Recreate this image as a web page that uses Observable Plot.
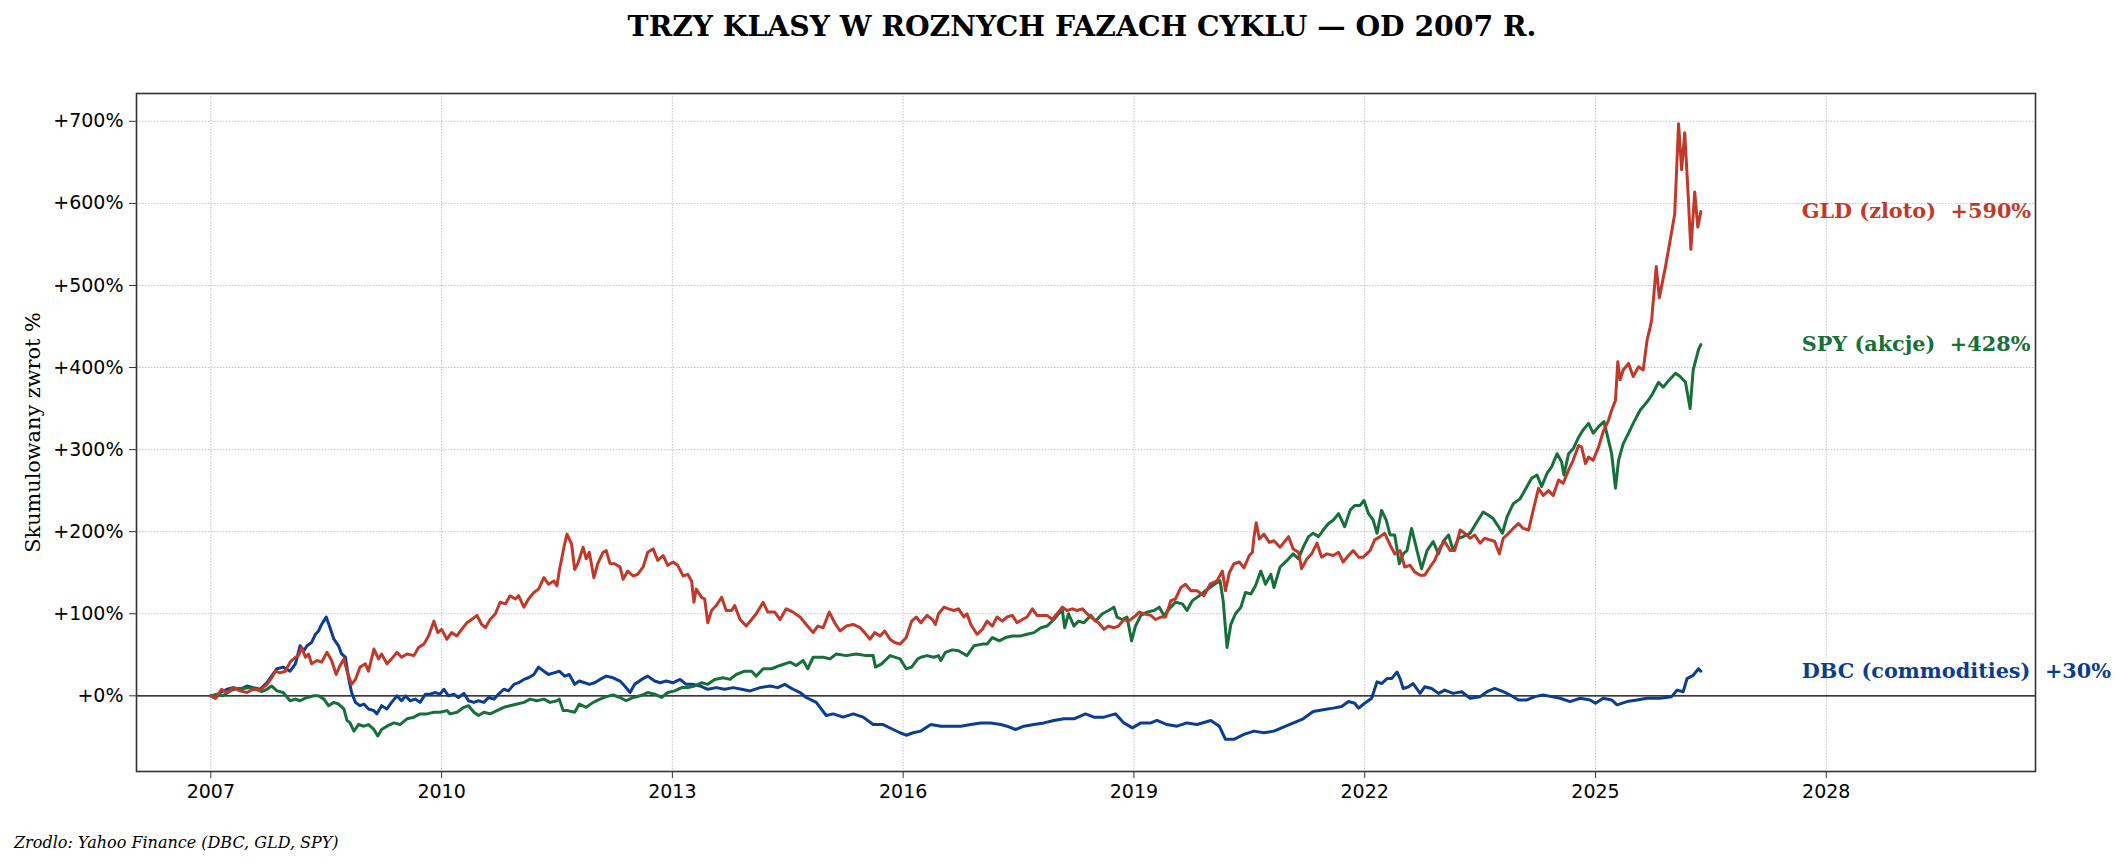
<!DOCTYPE html>
<html>
<head>
<meta charset="utf-8">
<script src="https://cdn.jsdelivr.net/npm/d3@7"></script>
<script src="https://cdn.jsdelivr.net/npm/@observablehq/plot@0.6"></script>
<style>
  html, body { margin: 0; padding: 0; background: #fff; }
  #wrap { position: relative; width: 2127px; height: 866px; background: #fff; overflow: hidden; }
  #title { position: absolute; left: 82px; width: 2000px; top: 8px; height: 36px; line-height: 36px;
           text-align: center; font-family: "DejaVu Serif", serif; font-weight: bold; font-size: 28.3px; color: #000; }
  #source { position: absolute; left: 14px; top: 832px; height: 22px; line-height: 22px;
            font-family: "DejaVu Serif", serif; font-style: italic; font-size: 16px; color: #000; }
  svg text { white-space: pre; }
</style>
</head>
<body>
<div id="wrap">
  <div id="chart"></div>
  <div id="title">TRZY KLASY W ROZNYCH FAZACH CYKLU — OD 2007 R.</div>
  <div id="source">Zrodlo: Yahoo Finance (DBC, GLD, SPY)</div>
</div>
<script>
// ---- data: [year, cumulative return %] ----
const gld = [[2007.00,0],[2007.06,-3],[2007.14,8],[2007.21,4],[2007.29,10],[2007.38,6],[2007.47,4],[2007.55,8],[2007.64,7],[2007.73,14],[2007.79,22],[2007.84,30],[2007.90,28],[2007.97,30],[2008.03,41],[2008.10,47],[2008.14,49],[2008.18,59],[2008.23,47],[2008.27,51],[2008.31,39],[2008.38,43],[2008.44,41],[2008.51,53],[2008.57,43],[2008.63,26],[2008.67,35],[2008.73,45],[2008.77,30],[2008.83,14],[2008.88,20],[2008.94,35],[2009.01,39],[2009.05,30],[2009.12,57],[2009.18,45],[2009.22,51],[2009.29,39],[2009.35,45],[2009.42,53],[2009.48,47],[2009.55,51],[2009.64,49],[2009.70,59],[2009.77,63],[2009.83,73],[2009.90,91],[2009.95,77],[2010.00,81],[2010.07,69],[2010.13,77],[2010.20,73],[2010.26,81],[2010.33,89],[2010.39,93],[2010.46,98],[2010.52,87],[2010.57,83],[2010.63,93],[2010.70,100],[2010.76,114],[2010.83,112],[2010.89,122],[2010.96,118],[2011.00,122],[2011.07,108],[2011.13,118],[2011.20,126],[2011.26,130],[2011.33,144],[2011.39,136],[2011.46,140],[2011.50,134],
  [2011.53,152],[2011.59,181],[2011.63,197],[2011.69,185],[2011.73,154],[2011.77,161],[2011.84,181],[2011.88,167],[2011.92,175],[2011.98,144],[2012.03,161],[2012.10,175],[2012.14,177],[2012.19,161],[2012.25,161],[2012.32,157],[2012.36,142],[2012.42,152],[2012.49,146],[2012.55,148],[2012.62,157],[2012.68,175],[2012.75,179],[2012.81,165],[2012.88,171],[2012.94,159],[2013.01,163],[2013.07,159],[2013.14,146],[2013.20,148],[2013.25,140],[2013.28,114],[2013.31,130],[2013.38,120],[2013.42,118],[2013.46,89],[2013.51,104],[2013.57,110],[2013.64,120],[2013.70,104],[2013.77,104],[2013.81,110],[2013.88,93],[2013.96,85],[2014.03,93],[2014.09,100],[2014.18,114],[2014.24,102],[2014.33,102],[2014.40,93],[2014.48,106],[2014.57,102],[2014.66,96],[2014.74,87],[2014.83,77],[2014.89,85],[2014.96,83],[2015.04,102],[2015.11,89],[2015.18,79],[2015.26,85],[2015.35,87],[2015.44,83],[2015.50,77],[2015.57,69],[2015.63,77],[2015.70,73],[2015.76,79],[2015.83,69],[2015.89,65],[2015.96,63],[2016.04,71],[2016.11,91],[2016.17,96],
  [2016.23,89],[2016.31,98],[2016.38,93],[2016.42,87],[2016.46,100],[2016.53,108],[2016.59,106],[2016.66,104],[2016.72,106],[2016.79,96],[2016.83,100],[2016.88,87],[2016.96,75],[2017.03,81],[2017.09,91],[2017.16,85],[2017.22,96],[2017.29,91],[2017.35,96],[2017.42,98],[2017.48,89],[2017.55,93],[2017.61,96],[2017.68,106],[2017.74,98],[2017.81,98],[2017.87,98],[2017.94,93],[2018.00,100],[2018.07,108],[2018.13,104],[2018.20,106],[2018.26,104],[2018.33,106],[2018.39,100],[2018.48,93],[2018.54,89],[2018.61,81],[2018.67,85],[2018.74,83],[2018.80,85],[2018.87,93],[2018.93,91],[2019.00,96],[2019.07,102],[2019.13,100],[2019.22,98],[2019.28,93],[2019.35,96],[2019.41,96],[2019.48,116],[2019.54,118],[2019.61,132],[2019.67,136],[2019.74,128],[2019.82,128],[2019.91,122],[2019.99,136],[2020.08,140],[2020.15,152],[2020.19,128],[2020.24,150],[2020.30,161],[2020.37,163],[2020.43,156],[2020.50,171],[2020.54,175],[2020.56,193],[2020.59,211],[2020.63,191],[2020.69,197],[2020.76,187],[2020.82,189],
  [2020.90,181],[2020.96,188],[2021.01,194],[2021.07,179],[2021.14,175],[2021.18,155],[2021.25,167],[2021.31,173],[2021.38,186],[2021.44,169],[2021.51,173],[2021.59,171],[2021.66,175],[2021.72,163],[2021.79,171],[2021.85,177],[2021.92,169],[2021.98,169],[2022.07,177],[2022.13,190],[2022.20,194],[2022.26,198],[2022.33,184],[2022.39,173],[2022.46,177],[2022.52,157],[2022.59,159],[2022.65,151],[2022.72,147],[2022.78,147],[2022.85,157],[2022.91,165],[2022.98,181],[2023.04,188],[2023.11,177],[2023.17,177],[2023.24,202],[2023.30,198],[2023.37,192],[2023.43,196],[2023.50,186],[2023.56,192],[2023.63,190],[2023.69,188],[2023.75,173],[2023.80,192],[2023.87,198],[2023.93,204],[2024.00,210],[2024.06,204],[2024.13,202],[2024.19,226],[2024.26,253],[2024.32,244],[2024.39,250],[2024.45,244],[2024.52,263],[2024.58,259],[2024.65,275],[2024.71,287],[2024.78,305],[2024.82,303],[2024.87,283],[2024.91,291],[2024.97,287],[2025.04,303],[2025.10,322],[2025.17,336],[2025.21,348],[2025.26,360],[2025.29,407],[2025.32,385],[2025.36,397],[2025.43,405],[2025.49,389],[2025.56,401],[2025.62,397],[2025.67,433],[2025.71,449],[2025.73,458],
  [2025.79,523],[2025.83,485],[2025.91,523],[2025.98,560],[2026.03,587],[2026.08,697],[2026.12,641],[2026.16,686],[2026.20,619],[2026.24,544],[2026.29,614],[2026.33,571],[2026.37,590]];

const spy = [[2007.00,0],[2007.08,2],[2007.16,0],[2007.25,6],[2007.34,9],[2007.42,9],[2007.51,10],[2007.60,8],[2007.66,5],[2007.73,8],[2007.79,12],[2007.86,6],[2007.94,4],[2008.03,-6],[2008.10,-4],[2008.16,-6],[2008.25,-2],[2008.34,0],[2008.40,0],[2008.47,-4],[2008.53,-12],[2008.60,-8],[2008.66,-10],[2008.73,-16],[2008.77,-30],[2008.81,-33],[2008.86,-43],[2008.92,-35],[2008.99,-37],[2009.05,-35],[2009.12,-41],[2009.17,-49],[2009.22,-41],[2009.29,-37],[2009.38,-33],[2009.46,-35],[2009.55,-28],[2009.64,-26],[2009.72,-22],[2009.81,-22],[2009.90,-20],[2009.98,-20],[2010.07,-18],[2010.11,-22],[2010.20,-20],[2010.29,-14],[2010.35,-12],[2010.42,-20],[2010.48,-24],[2010.55,-20],[2010.63,-22],[2010.72,-18],[2010.81,-14],[2010.89,-12],[2010.98,-10],[2011.07,-8],[2011.15,-4],[2011.24,-6],[2011.33,-4],[2011.41,-8],[2011.50,-6],
  [2011.53,-4],[2011.58,-18],[2011.64,-18],[2011.73,-20],[2011.79,-10],[2011.88,-14],[2011.97,-8],[2012.06,-4],[2012.14,-1],[2012.23,1],[2012.32,-2],[2012.40,-6],[2012.49,-2],[2012.58,0],[2012.68,4],[2012.77,2],[2012.86,-2],[2012.94,4],[2013.03,6],[2013.12,10],[2013.20,10],[2013.29,12],[2013.38,16],[2013.46,14],[2013.55,20],[2013.66,22],[2013.75,20],[2013.83,26],[2013.94,30],[2014.03,30],[2014.09,24],[2014.18,33],[2014.29,33],[2014.40,37],[2014.53,41],[2014.61,37],[2014.70,43],[2014.76,33],[2014.83,47],[2014.96,47],[2015.05,45],[2015.13,51],[2015.26,49],[2015.39,51],[2015.52,49],[2015.61,49],[2015.64,35],[2015.72,39],[2015.83,49],[2015.96,45],[2016.04,33],[2016.11,35],[2016.19,45],
  [2016.23,47],[2016.31,49],[2016.40,47],[2016.46,49],[2016.49,43],[2016.55,53],[2016.64,56],[2016.72,55],[2016.83,49],[2016.92,61],[2017.03,63],[2017.09,63],[2017.16,71],[2017.25,67],[2017.33,71],[2017.42,73],[2017.53,73],[2017.61,75],[2017.70,77],[2017.79,83],[2017.87,85],[2017.96,93],[2018.02,100],[2018.07,104],[2018.10,83],[2018.15,100],[2018.22,85],[2018.28,91],[2018.35,89],[2018.44,98],[2018.50,91],[2018.59,100],[2018.67,104],[2018.74,108],[2018.78,96],[2018.85,93],[2018.91,96],[2018.97,67],[2019.02,85],[2019.09,98],[2019.17,102],[2019.26,104],[2019.33,108],[2019.39,98],[2019.46,106],[2019.54,114],[2019.63,112],[2019.69,104],[2019.76,116],[2019.85,122],[2019.93,128],[2020.02,134],[2020.08,138],[2020.12,140],[2020.16,116],[2020.21,59],[2020.26,87],[2020.32,100],[2020.39,108],[2020.45,126],[2020.52,124],[2020.58,134],[2020.65,152],[2020.71,136],[2020.78,148],[2020.82,132],
  [2020.90,157],[2020.99,165],[2021.07,173],[2021.14,167],[2021.20,181],[2021.27,194],[2021.33,198],[2021.40,194],[2021.46,202],[2021.53,210],[2021.59,214],[2021.66,222],[2021.74,206],[2021.81,226],[2021.87,232],[2021.94,232],[2021.99,238],[2022.05,222],[2022.11,214],[2022.16,198],[2022.22,226],[2022.28,214],[2022.33,196],[2022.39,196],[2022.45,161],[2022.50,173],[2022.55,177],[2022.61,204],[2022.68,177],[2022.74,155],[2022.81,177],[2022.89,188],[2022.96,173],[2023.02,188],[2023.09,196],[2023.15,177],[2023.22,192],[2023.28,194],[2023.37,198],[2023.46,212],[2023.54,224],[2023.61,220],[2023.67,216],[2023.74,206],[2023.79,198],[2023.85,218],[2023.93,234],[2024.02,240],[2024.11,255],[2024.17,265],[2024.24,269],[2024.30,255],[2024.37,271],[2024.43,279],[2024.50,295],[2024.56,285],[2024.59,269],[2024.65,295],[2024.71,301],[2024.78,315],[2024.84,324],[2024.91,332],[2024.97,320],[2025.04,328],[2025.11,334],[2025.17,311],[2025.21,295],[2025.26,253],[2025.30,287],[2025.36,307],[2025.43,320],[2025.49,332],[2025.58,348],[2025.67,358],[2025.73,366],[2025.82,382],[2025.88,376],[2025.95,384],[2026.04,393],[2026.10,389],[2026.17,382],[2026.23,350],[2026.27,397],[2026.34,422],[2026.37,428]];

const dbc = [[2007.00,0],[2007.06,-3],[2007.12,4],[2007.21,8],[2007.29,10],[2007.38,8],[2007.47,12],[2007.55,10],[2007.64,8],[2007.73,16],[2007.79,24],[2007.86,33],[2007.94,35],[2008.03,30],[2008.10,39],[2008.16,61],[2008.21,55],[2008.25,61],[2008.31,65],[2008.36,75],[2008.40,79],[2008.44,87],[2008.50,96],[2008.55,83],[2008.60,69],[2008.66,61],[2008.70,51],[2008.75,47],[2008.79,22],[2008.83,4],[2008.88,-8],[2008.94,-12],[2008.99,-10],[2009.05,-16],[2009.12,-18],[2009.16,-22],[2009.22,-12],[2009.29,-16],[2009.35,-8],[2009.42,0],[2009.48,-6],[2009.53,0],[2009.59,-6],[2009.66,-4],[2009.72,-8],[2009.79,2],[2009.85,2],[2009.92,4],[2009.98,2],[2010.03,8],[2010.09,0],[2010.16,2],[2010.22,-2],[2010.29,3],[2010.35,-6],[2010.42,-8],[2010.48,-6],[2010.55,-8],[2010.61,-2],[2010.68,-4],[2010.74,2],[2010.81,8],[2010.87,6],[2010.94,14],[2011.00,16],[2011.07,20],[2011.13,22],[2011.20,26],[2011.26,35],[2011.33,30],[2011.39,26],[2011.46,28],
  [2011.53,30],[2011.60,24],[2011.66,26],[2011.73,14],[2011.79,18],[2011.86,16],[2011.92,14],[2011.99,16],[2012.06,20],[2012.14,24],[2012.23,22],[2012.32,18],[2012.38,12],[2012.45,4],[2012.51,14],[2012.60,20],[2012.68,24],[2012.77,18],[2012.84,16],[2012.92,18],[2013.01,16],[2013.10,20],[2013.18,14],[2013.27,14],[2013.36,12],[2013.46,8],[2013.57,10],[2013.68,8],[2013.79,10],[2013.90,8],[2014.01,6],[2014.14,10],[2014.27,12],[2014.37,10],[2014.46,14],[2014.57,8],[2014.66,4],[2014.74,-2],[2014.87,-8],[2015.00,-24],[2015.09,-22],[2015.22,-26],[2015.35,-22],[2015.48,-26],[2015.61,-35],[2015.74,-35],[2015.87,-41],[2015.96,-45],[2016.04,-48],[2016.13,-45],
  [2016.23,-43],[2016.36,-35],[2016.49,-37],[2016.62,-37],[2016.75,-37],[2016.88,-35],[2017.01,-33],[2017.14,-33],[2017.27,-35],[2017.35,-37],[2017.46,-41],[2017.57,-37],[2017.70,-35],[2017.83,-33],[2017.96,-30],[2018.09,-28],[2018.22,-28],[2018.37,-22],[2018.48,-26],[2018.61,-26],[2018.76,-22],[2018.87,-33],[2018.98,-39],[2019.09,-33],[2019.22,-33],[2019.30,-30],[2019.43,-35],[2019.56,-37],[2019.69,-33],[2019.82,-35],[2020.00,-30],[2020.11,-37],[2020.19,-53],[2020.30,-53],[2020.43,-47],[2020.56,-43],[2020.69,-45],[2020.82,-43],[2021.02,-35],
  [2021.20,-28],[2021.33,-19],[2021.46,-17],[2021.59,-15],[2021.70,-13],[2021.79,-7],[2021.87,-9],[2021.92,-15],[2022.00,-9],[2022.09,-3],[2022.16,17],[2022.22,15],[2022.29,21],[2022.35,21],[2022.42,29],[2022.46,21],[2022.50,9],[2022.57,11],[2022.63,15],[2022.72,3],[2022.78,11],[2022.87,9],[2022.96,3],[2023.04,7],[2023.15,3],[2023.26,5],[2023.37,-3],[2023.50,-1],[2023.59,5],[2023.69,9],[2023.80,5],[2023.89,1],[2024.00,-5],[2024.11,-5],[2024.21,-1],[2024.32,1],[2024.43,-1],[2024.54,-3],[2024.67,-7],[2024.80,-3],[2024.93,-5],[2025.00,-9],[2025.10,-3],[2025.21,-5],[2025.28,-11],[2025.41,-7],[2025.54,-5],[2025.67,-3],[2025.84,-3],[2025.99,-1],[2026.06,7],[2026.14,5],[2026.19,21],[2026.27,25],[2026.34,33],[2026.37,30]];

const seriesColors = ["#c0392b", "#17703a", "#0b3d91"];
const endLabels = ["GLD (zloto)  +590%", "SPY (akcje)  +428%", "DBC (commodities)  +30%"];
const endValues = [590, 428, 30];
const labelYear = 2027.68;

const xTicks = [2007, 2010, 2013, 2016, 2019, 2022, 2025, 2028];
const yTicks = [0, 100, 200, 300, 400, 500, 600, 700];

const gridStyle = { stroke: "#b0b0b0", strokeOpacity: 0.75, strokeWidth: 1, strokeDasharray: "1.5,1.5" };
const lineWidth = 3;

const chart = Plot.plot({
  width: 2127,
  height: 866,
  marginLeft: 136,
  marginRight: 92,
  marginTop: 93,
  marginBottom: 95,
  x: { domain: [2006.034, 2030.72] },
  y: { domain: [-92.2, 733.9] },
  style: { fontFamily: "DejaVu Sans", fontSize: "19px", color: "#000", background: "#fff", overflow: "visible" },
  marks: [
    Plot.gridX(xTicks, gridStyle),
    Plot.gridY(yTicks, gridStyle),
    Plot.ruleY([0], { stroke: "#000", strokeWidth: 1.4 }),
    Plot.line(dbc, { x: d => d[0], y: d => d[1], stroke: seriesColors[2], strokeWidth: lineWidth, strokeLinejoin: "round" }),
    Plot.line(spy, { x: d => d[0], y: d => d[1], stroke: seriesColors[1], strokeWidth: lineWidth, strokeLinejoin: "round" }),
    Plot.line(gld, { x: d => d[0], y: d => d[1], stroke: seriesColors[0], strokeWidth: lineWidth, strokeLinejoin: "round" }),
    Plot.frame({ stroke: "#333", strokeWidth: 1.6 }),
    Plot.axisX(xTicks, { tickFormat: d => String(d), tickSize: 7, tickPadding: 6, stroke: "#333", fontSize: 19, label: null }),
    Plot.axisY(yTicks, { tickFormat: d => "+" + d + "%", tickSize: 7, tickPadding: 6, stroke: "#333", fontSize: 19, label: null }),
    Plot.text(endLabels, {
      x: endLabels.map(() => labelYear),
      y: endValues,
      text: d => d,
      fill: seriesColors,
      textAnchor: "start",
      fontFamily: "DejaVu Serif",
      fontWeight: "bold",
      fontSize: 20.8
    }),
    Plot.text(["Skumulowany zwrot %"], {
      frameAnchor: "left", dx: -103, rotate: -90, textAnchor: "middle", lineAnchor: "middle",
      fontFamily: "DejaVu Serif", fontSize: 20.8, fill: "#000"
    })
  ]
});
document.getElementById("chart").appendChild(chart);
</script>
</body>
</html>
